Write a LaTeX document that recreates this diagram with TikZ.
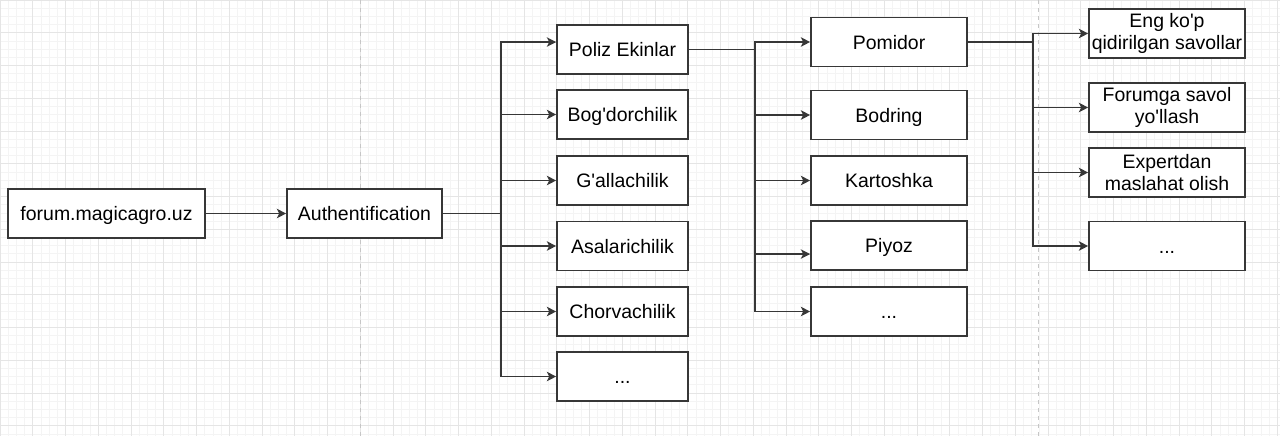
\documentclass[tikz,border=0pt]{standalone}
\usepackage{fontspec}
\setmainfont{Liberation Sans}[Ligatures=TeXOff]
\usetikzlibrary{arrows.meta}

\definecolor{linegray}{RGB}{55,55,55}

\tikzset{
  box/.style={draw=linegray, line width=1.2pt, fill=white, minimum height=36.75pt,
    inner sep=0pt, align=center, font=\fontsize{14.6}{16.5}\selectfont},
  oneline/.style={text height=10.5pt, text depth=0pt},
  link/.style={draw=linegray, line width=1.2pt, -{Stealth[length=7pt,width=7pt,inset=1.8pt]}},
  minorline/.style={gray!9, line width=0.5pt},
  majorline/.style={gray!20, line width=0.5pt},
  pageline/.style={gray!45, line width=0.6pt, dash pattern=on 3pt off 3pt},
}

\begin{document}
\begin{tikzpicture}[x=0.75pt, y=-0.75pt]
    \useasboundingbox (0,0) rectangle (1280,436);

    % grid
    \fill[white] (0,0) rectangle (1280,436);
    \foreach \i in {0,...,156} \draw[minorline] (\i*8.1875,0) -- (\i*8.1875,436);
    \foreach \j in {0,...,53} \draw[minorline] (0,\j*8.1875) -- (1280,\j*8.1875);
    \foreach \i in {0,...,39} \draw[majorline] (\i*32.75,0) -- (\i*32.75,436);
    \foreach \j in {0,...,13} \draw[majorline] (0,\j*32.75) -- (1280,\j*32.75);
    \draw[pageline] (360,0) -- (360,436);
    \draw[pageline] (1038,0) -- (1038,436);

    \node[box, oneline, minimum width=147.75pt] (site) at (106.5,213.5) {forum.magicagro.uz};
    \node[box, oneline, minimum width=116.25pt] (auth) at (364.5,213.5) {Authentification};

    \begin{scope}[every node/.style={box, oneline, minimum width=98.25pt}]
      \node (poliz) at (622.5,49.5) {Poliz Ekinlar};
      \node (bog) at (622.5,114.5) {Bog'dorchilik};
      \node (galla) at (622.5,180.5) {G'allachilik};
      \node (asal) at (622.5,246) {Asalarichilik};
      \node (chorv) at (622.5,311.5) {Chorvachilik};
      \node (soha) at (622.5,376.5) {...};
    \end{scope}

    \begin{scope}[every node/.style={box, minimum width=117pt}]
      \node[oneline] (pomidor) at (889,42) {Pomidor};
      \node[oneline] (bodring) at (889,115) {Bodring};
      \node[oneline] (kartoshka) at (889,180.5) {Kartoshka};
      \node[oneline] (piyoz) at (889,245.5) {Piyoz};
      \node[oneline] (ekin) at (889,311.5) {...};

      \node (savollar) at (1167,33.5) {Eng ko'p\\qidirilgan savollar};
      \node (savol) at (1167,107.5) {Forumga savol\\yo'llash};
      \node (expert) at (1167,172.5) {Expertdan\\maslahat olish};
      \node[oneline] (bolim) at (1167,246) {...};
    \end{scope}

    \draw[link] (site) -- (auth);

    \draw[link] (auth.east) -- ++(58,0) |- ([yshift=5.6pt]poliz.west);
    \foreach \t in {bog,galla,asal,chorv,soha}
      \draw[link] (auth.east) -- ++(58,0) |- (\t.west);

    \foreach \t in {pomidor,bodring,kartoshka,ekin}
      \draw[link] (poliz.east) -- ++(66,0) |- (\t.west);
    \draw[link] (poliz.east) -- ++(66,0) |- ([yshift=-6.4pt]piyoz.west);

    \foreach \t in {savollar,savol,expert,bolim}
      \draw[link] (pomidor.east) -- ++(65,0) |- (\t.west);
\end{tikzpicture}
\end{document}
